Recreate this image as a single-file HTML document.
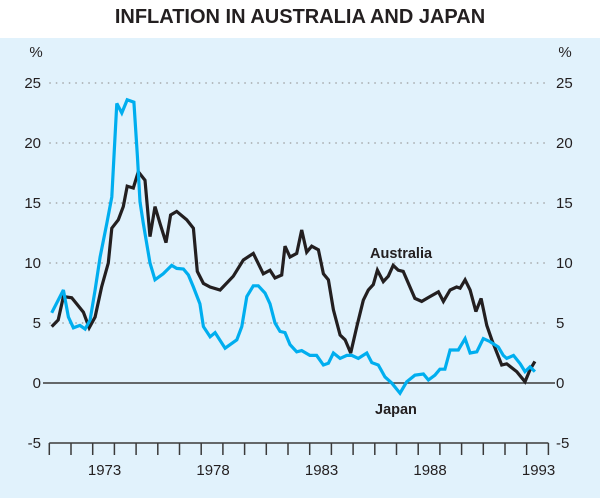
<!DOCTYPE html>
<html><head><meta charset="utf-8"><style>
body{margin:0;background:#fff;}
svg{display:block;font-family:"Liberation Sans",Arial,sans-serif;}
</style></head><body>
<svg id="chart" width="600" height="498" viewBox="0 0 600 498" xmlns="http://www.w3.org/2000/svg">
<rect x="0" y="0" width="600" height="38" fill="#fff"/>
<rect x="0" y="38" width="600" height="460" fill="#e1f2fc"/>
<text x="300" y="23" text-anchor="middle" font-size="20" font-weight="bold" fill="#231f20">INFLATION IN AUSTRALIA AND JAPAN</text>
<text x="36" y="57" text-anchor="middle" font-size="15" fill="#231f20">%</text>
<text x="565" y="57" text-anchor="middle" font-size="15" fill="#231f20">%</text>
<g id="grid"></g><g id="axes"></g><g id="series"></g>
<text x="370" y="258" font-size="14.5" font-weight="bold" fill="#231f20">Australia</text>
<text x="375" y="414" font-size="14.5" font-weight="bold" fill="#231f20">Japan</text>
</svg>
<script>
const yTicks=[-5,0,5,10,15,20,25];
const yearLabels=[1973,1978,1983,1988,1993];
const ausYears=[1971.11,1971.41,1971.65,1972.03,1972.26,1972.57,1972.84,1973.11,1973.41,1973.72,1973.88,1974.18,1974.41,1974.59,1974.87,1975.10,1975.41,1975.64,1975.87,1976.10,1976.38,1976.59,1976.87,1977.33,1977.64,1977.82,1978.10,1978.41,1978.87,1979.48,1979.94,1980.40,1980.86,1981.17,1981.40,1981.71,1981.86,1982.09,1982.40,1982.63,1982.86,1983.09,1983.40,1983.63,1983.86,1984.09,1984.40,1984.63,1984.89,1985.17,1985.47,1985.70,1985.93,1986.12,1986.39,1986.62,1986.85,1987.08,1987.31,1987.85,1988.16,1988.54,1988.93,1989.16,1989.47,1989.77,1989.93,1990.16,1990.39,1990.66,1990.90,1991.16,1991.39,1991.85,1992.08,1992.54,1992.92,1993.15,1993.38];
const ausValues=[4.7,5.25,7.2,7.1,6.6,5.9,4.6,5.5,8,10,12.9,13.6,14.7,16.4,16.25,17.6,16.9,12.2,14.7,13.3,11.7,14,14.3,13.6,12.9,9.3,8.3,8.0,7.75,8.9,10.25,10.8,9.1,9.4,8.75,9,11.4,10.5,10.8,12.75,10.9,11.4,11.1,9.1,8.6,6.1,4,3.6,2.5,4.7,6.9,7.75,8.2,9.4,8.45,8.9,9.8,9.4,9.3,7.05,6.8,7.2,7.6,6.8,7.75,8.0,7.9,8.6,7.75,5.95,7.05,4.8,3.6,1.5,1.6,0.95,0.1,1.1,1.8];
const jpnYears=[1971.11,1971.65,1971.88,1972.11,1972.41,1972.65,1972.88,1973.11,1973.34,1973.65,1973.88,1974.11,1974.34,1974.59,1974.90,1975.06,1975.18,1975.33,1975.64,1975.87,1976.25,1976.64,1976.87,1977.18,1977.41,1977.64,1977.94,1978.10,1978.41,1978.64,1979.10,1979.64,1979.87,1980.10,1980.40,1980.63,1980.94,1981.17,1981.40,1981.63,1981.86,1982.09,1982.40,1982.63,1983.01,1983.32,1983.63,1983.86,1984.09,1984.40,1984.71,1984.94,1985.24,1985.63,1985.86,1986.16,1986.47,1986.78,1987.16,1987.47,1987.85,1988.24,1988.47,1988.77,1989.00,1989.23,1989.47,1989.85,1990.16,1990.39,1990.70,1991.00,1991.31,1991.69,1991.92,1992.08,1992.39,1992.70,1992.92,1993.15,1993.38];
const jpnValues=[5.85,7.75,5.5,4.6,4.8,4.5,5.25,7.75,10.5,13.3,15.5,23.3,22.5,23.6,23.4,18.9,15.1,13.3,10,8.6,9.1,9.8,9.55,9.5,9,8,6.6,4.7,3.85,4.2,2.9,3.6,4.7,7.2,8.1,8.1,7.5,6.6,5,4.3,4.2,3.2,2.6,2.7,2.3,2.3,1.5,1.65,2.5,2.05,2.3,2.3,2.05,2.5,1.7,1.5,0.5,0,-0.85,0.1,0.65,0.75,0.25,0.65,1.15,1.15,2.75,2.75,3.7,2.5,2.6,3.7,3.45,3.0,2.3,2.05,2.3,1.6,0.95,1.35,0.95];

const NS='http://www.w3.org/2000/svg';
const X0=49.3, YW=21.7, START=1971;
function xs(t){return X0+(t-START)*YW;}
function ys(v){return 383-v*12;}
function mk(tag,attrs,parent){const e=document.createElementNS(NS,tag);for(const k in attrs)e.setAttribute(k,attrs[k]);parent.appendChild(e);return e;}
const grid=document.getElementById('grid'),axes=document.getElementById('axes'),series=document.getElementById('series');
const xEnd=xs(1994);
yTicks.forEach(v=>{
  if(v>0){const l=mk('line',{x1:X0,x2:xEnd,y1:ys(v),y2:ys(v),stroke:'#9a9a9a','stroke-width':1.2,'stroke-dasharray':'1.5 5'},grid);
  
  }
  const a=mk('text',{x:41,y:ys(v)+5,'text-anchor':'end','font-size':15,fill:'#231f20'},axes);a.textContent=v;
  
  
  const b=mk('text',{x:556,y:ys(v)+5,'text-anchor':'start','font-size':15,fill:'#231f20'},axes);b.textContent=v;
  
  
});
const z=mk('line',{x1:43,x2:555,y1:ys(0),y2:ys(0),stroke:'#3a3a3a','stroke-width':1.5},axes);


const xa=mk('line',{x1:X0,x2:xEnd,y1:ys(-5),y2:ys(-5),stroke:'#3a3a3a','stroke-width':1.5},axes);


for(let yr=START;yr<=1994;yr++){
  const t=mk('line',{x1:xs(yr),x2:xs(yr),y1:ys(-5),y2:ys(-5)+12,stroke:'#3a3a3a','stroke-width':1.5},axes);
  
  
}
yearLabels.forEach(yr=>{
  const t=mk('text',{x:xs(yr+0.5)+1,y:475,'text-anchor':'middle','font-size':15,fill:'#231f20'},axes);t.textContent=yr;
  
  
});
function line(ts,vs,color,name){
  const d=ts.map((t,i)=>(i?'L':'M')+xs(t).toFixed(1)+' '+ys(vs[i]).toFixed(1)).join(' ');
  const p=mk('path',{d:d,fill:'none',stroke:color,'stroke-width':3.2,'stroke-linejoin':'miter','stroke-miterlimit':3},series);
  
  
}
line(ausYears,ausValues,'#231f20','australia-line');
line(jpnYears,jpnValues,'#00aeef','japan-line');
</script>
</body></html>
